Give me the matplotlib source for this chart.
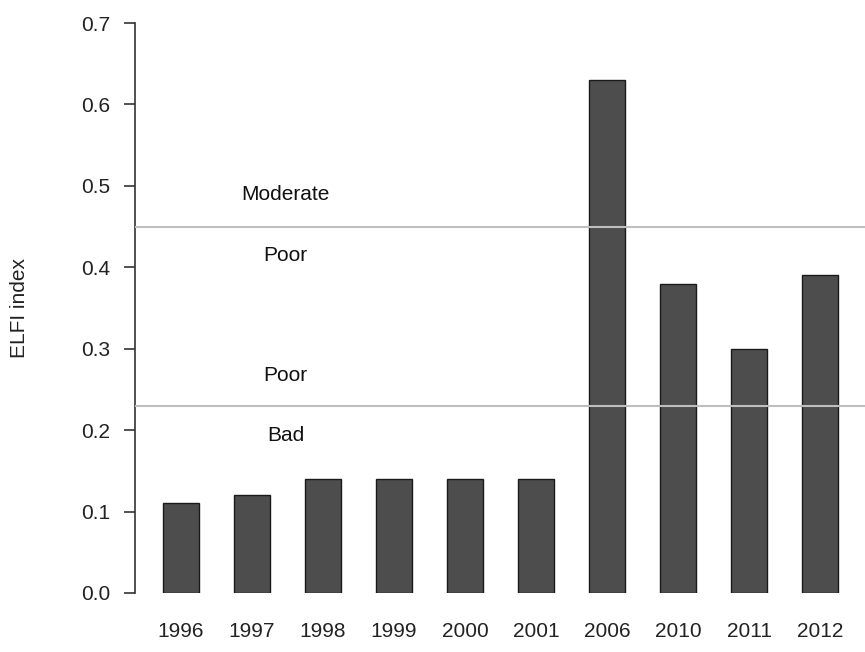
import numpy as np
import matplotlib.pyplot as plt

plt.rcParams['font.family'] = ['Liberation Sans', 'DejaVu Sans']

years = ['1996', '1997', '1998', '1999', '2000', '2001', '2006', '2010', '2011', '2012']
elfi = [0.11, 0.12, 0.14, 0.14, 0.14, 0.14, 0.63, 0.38, 0.30, 0.39]
thresholds = [0.45, 0.23]
class_labels = ['Moderate', 'Poor', 'Poor', 'Bad']
class_label_y = [0.489, 0.415, 0.267, 0.194]
yticks = [0.0, 0.1, 0.2, 0.3, 0.4, 0.5, 0.6, 0.7]

fig = plt.figure(figsize=(8.65, 6.52), dpi=100)
ax = fig.add_axes([0.156, 0.0905, 0.844, 0.8742])

x = np.arange(len(years))
ax.bar(x, elfi, width=0.51, color='#4d4d4d', edgecolor='#1a1a1a', linewidth=1.0, zorder=2)

for t in thresholds:
    ax.axhline(t, color='#bebebe', linewidth=1.5, zorder=3)

for lab, yy in zip(class_labels, class_label_y):
    ax.text(1.47, yy, lab, ha='center', va='center', fontsize=15, color='#111111')

ax.set_xlim(-0.648, 9.63)
ax.set_ylim(0, 0.7)
ax.set_yticks(yticks)
ax.set_yticklabels([f'{v:.1f}' for v in yticks])
ax.set_xticks(x)
ax.set_xticklabels(years)

for s in ['top', 'right', 'bottom']:
    ax.spines[s].set_visible(False)
ax.spines['left'].set_color('#333333')
ax.spines['left'].set_linewidth(1.2)
ax.tick_params(axis='y', length=8, width=1.2, color='#333333', pad=10,
               labelsize=15, labelcolor='#222222')
ax.tick_params(axis='x', length=0, pad=21, labelsize=15, labelcolor='#222222')
ax.set_ylabel('ELFI index', fontsize=15, color='#222222', labelpad=37)

fig.savefig('out.png', dpi=100)
